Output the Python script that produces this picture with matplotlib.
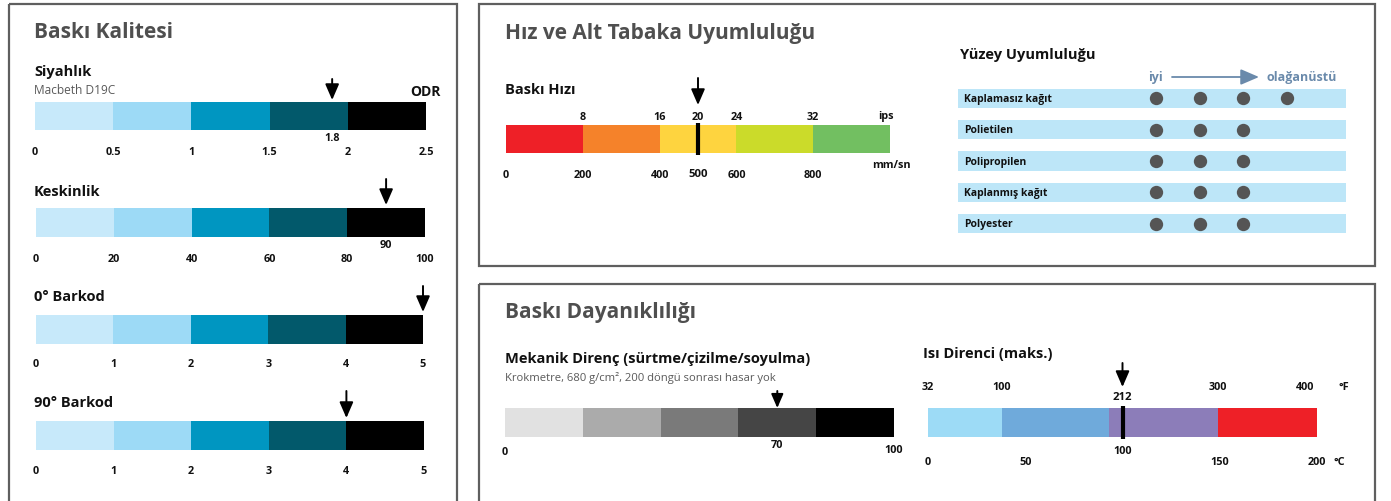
import matplotlib
matplotlib.use('Agg')
import matplotlib.pyplot as plt
from matplotlib.patches import Rectangle
from matplotlib.transforms import blended_transform_factory as btf
import numpy as np

# ---------------- data ----------------
quality_colors = ['#c7e9fa', '#9ddaf6', '#0096c1', '#02596b', '#000000']

siyah_ticks = [0, 0.5, 1, 1.5, 2, 2.5]
siyah_tick_labels = ['0', '0.5', '1', '1.5', '2', '2.5']
siyah_marker = 1.9
siyah_marker_label = '1.8'

kesk_ticks = [0, 20, 40, 60, 80, 100]
kesk_marker = 90
kesk_marker_label = '90'

bar0_ticks = [0, 1, 2, 3, 4, 5]
bar0_marker = 5

bar90_ticks = [0, 1, 2, 3, 4, 5]
bar90_marker = 4

speed_bounds = [0, 200, 400, 600, 800, 1000]
speed_colors = ['#ee2027', '#f5822a', '#fed43f', '#cbdb2a', '#72bf61']
speed_mm_ticks = [0, 200, 400, 600, 800]
speed_ips_labels = ['8', '16', '20', '24', '32']
speed_ips_pos = [200, 400, 500, 600, 800]
speed_marker = 500

surfaces = ['Kaplamasız kağıt', 'Polietilen', 'Polipropilen', 'Kaplanmış kağıt', 'Polyester']
surface_scores = [4, 3, 3, 3, 3]

mech_bounds = [0, 20, 40, 60, 80, 100]
mech_colors = ['#e1e1e1', '#ababab', '#7a7a7a', '#454545', '#000000']
mech_marker = 70

heat_bounds_c = [0, 37.8, 93.3, 148.9, 200]
heat_colors = ['#9ddbf6', '#6faadb', '#8c7db9', '#ee2027']
heat_c_ticks = [0, 50, 100, 150, 200]
heat_f_labels = ['32', '100', '212', '300', '400']
heat_f_pos = [0, 37.8, 100, 148.9, 194]
heat_marker = 100

# ---------------- layout ----------------
plt.rcParams['font.family'] = ['Open Sans', 'DejaVu Sans']
W, H = 1391, 502
fig = plt.figure(figsize=(W / 100, H / 100), dpi=100)
bg = fig.add_axes([0, 0, 1, 1])
bg.set_xlim(0, W)
bg.set_ylim(H, 0)
bg.axis('off')

TITLE_C = '#4f4f4f'
TXT_C = '#111111'
SUB_C = '#5a5a5a'
TICK = 7.8

for (x0, y0, x1, y1) in [(9, 5, 457, 520), (479, 5, 1375, 267), (479, 285, 1375, 520)]:
    bg.add_patch(Rectangle((x0, y0), x1 - x0, y1 - y0, fill=False, ec='#5f5f5f', lw=1.6))


def T(x, y, s, size, weight='normal', color=TXT_C, ha='left'):
    bg.text(x, y, s, fontsize=size, fontweight=weight, color=color, ha=ha, va='center')


def gauge_axes(x0, x1, y0, y1, xmin, xmax):
    ax = fig.add_axes([x0 / W, 1 - y1 / H, (x1 - x0) / W, (y1 - y0) / H])
    ax.set_xlim(xmin, xmax)
    ax.set_ylim(0, 1)
    ax.axis('off')
    return ax


def draw_bar(ax, bounds, colors):
    b = np.asarray(bounds, float)
    ax.barh(0.5, np.diff(b), left=b[:-1], height=1, color=colors, edgecolor='none', linewidth=0)


def label(ax, v, ypix, s, size=TICK, weight='bold', color=TXT_C):
    ax.text(v, ypix, s, transform=btf(ax.transData, bg.transData), ha='center', va='center',
            fontsize=size, fontweight=weight, color=color, clip_on=False)


def arrow(ax, v, tip, tail, ms=16, lw=1.4):
    tr = btf(ax.transData, bg.transData)
    ax.annotate('', xy=(v, tip), xytext=(v, tail), xycoords=tr, textcoords=tr,
                arrowprops=dict(arrowstyle='-|>,head_length=0.6,head_width=0.26', color='black',
                                lw=lw, shrinkA=0, shrinkB=0, mutation_scale=ms),
                annotation_clip=False)


def marker_line(ax, v):
    ax.plot([v, v], [-0.08, 1.08], color='black', lw=3, solid_capstyle='butt', clip_on=False)


# ---- Baskı Kalitesi ----
T(34, 32, 'Baskı Kalitesi', 15, 'bold', TITLE_C)

T(34, 72, 'Siyahlık', 10.5, 'bold')
T(34, 90, 'Macbeth D19C', 8.6, 'normal', SUB_C)
T(441, 92, 'ODR', 10, 'bold', ha='right')
ax = gauge_axes(35, 426, 103, 131, siyah_ticks[0], siyah_ticks[-1])
draw_bar(ax, siyah_ticks, quality_colors)
for v, s in zip(siyah_ticks, siyah_tick_labels):
    label(ax, v, 153, s)
label(ax, siyah_marker, 139, siyah_marker_label)
arrow(ax, siyah_marker, 101, 80)

T(34, 192, 'Keskinlik', 10.5, 'bold')
ax = gauge_axes(36, 425, 209, 238, kesk_ticks[0], kesk_ticks[-1])
draw_bar(ax, kesk_ticks, quality_colors)
for v in kesk_ticks:
    label(ax, v, 260, str(v))
label(ax, kesk_marker, 246, kesk_marker_label)
arrow(ax, kesk_marker, 206, 180)

T(34, 297, '0° Barkod', 10.5, 'bold')
ax = gauge_axes(36, 423, 316, 345, bar0_ticks[0], bar0_ticks[-1])
draw_bar(ax, bar0_ticks, quality_colors)
for v in bar0_ticks:
    label(ax, v, 365, str(v))
arrow(ax, bar0_marker, 313, 287)

T(34, 403, '90° Barkod', 10.5, 'bold')
ax = gauge_axes(36, 424, 422, 451, bar90_ticks[0], bar90_ticks[-1])
draw_bar(ax, bar90_ticks, quality_colors)
for v in bar90_ticks:
    label(ax, v, 472, str(v))
arrow(ax, bar90_marker, 419, 392)

# ---- Hız ve Alt Tabaka Uyumluluğu ----
T(505, 33, 'Hız ve Alt Tabaka Uyumluluğu', 15, 'bold', TITLE_C)
T(505, 90, 'Baskı Hızı', 10.5, 'bold')
ax = gauge_axes(506, 890, 126, 154, speed_bounds[0], speed_bounds[-1])
draw_bar(ax, speed_bounds, speed_colors)
for v in speed_mm_ticks:
    label(ax, v, 176, str(v))
label(ax, speed_marker, 175, str(speed_marker), size=8.2)
for v, s in zip(speed_ips_pos, speed_ips_labels):
    label(ax, v, 117, s)
label(ax, 990, 117, 'ips')
label(ax, 1003, 166, 'mm/sn')
marker_line(ax, speed_marker)
arrow(ax, speed_marker, 106, 79)

# surface compatibility
T(960, 55, 'Yüzey Uyumluluğu', 10.5, 'bold')
ARR_C = '#6a8aab'
T(1155, 78, 'iyi', 9, 'bold', ARR_C, ha='center')
T(1302, 78, 'olağanüstü', 9, 'bold', ARR_C, ha='center')
bg.annotate('', xy=(1259, 78), xytext=(1172, 78),
            arrowprops=dict(arrowstyle='-|>,head_length=0.7,head_width=0.3', color=ARR_C, lw=1.3,
                            shrinkA=0, shrinkB=0, mutation_scale=16))

sx0, sx1 = 958, 1346
lv0, lv1 = 1156, 1287
step = (lv1 - lv0) / 3
xmin = 1 - (lv0 - sx0) / step
xmax = 4 + (sx1 - lv1) / step
axs = fig.add_axes([sx0 / W, 1 - 234 / H, (sx1 - sx0) / W, (234 - 90) / H])
axs.set_xlim(xmin, xmax)
axs.set_ylim(4.3, -0.3)
axs.axis('off')
rows = np.arange(len(surfaces))
axs.barh(rows, xmax - xmin, left=xmin, height=0.61, color='#bde6f8', edgecolor='none')
for r, (name, sc) in enumerate(zip(surfaces, surface_scores)):
    lv = np.arange(1, sc + 1)
    axs.scatter(lv, np.full(len(lv), r), s=92, color='#555555', zorder=3, linewidths=0)
    axs.text(964, r, name, transform=btf(bg.transData, axs.transData), ha='left', va='center',
             fontsize=7.5, fontweight='bold', color=TXT_C)

# ---- Baskı Dayanıklılığı ----
T(505, 313, 'Baskı Dayanıklılığı', 15, 'bold', TITLE_C)
T(505, 359, 'Mekanik Direnç (sürtme/çizilme/soyulma)', 10.5, 'bold')
T(505, 378, 'Krokmetre, 680 g/cm², 200 döngü sonrası hasar yok', 8.1, 'normal', SUB_C)
ax = gauge_axes(505, 894, 409, 438, mech_bounds[0], mech_bounds[-1])
draw_bar(ax, mech_bounds, mech_colors)
label(ax, mech_bounds[0], 453, str(mech_bounds[0]))
label(ax, mech_bounds[-1], 451, str(mech_bounds[-1]))
label(ax, mech_marker, 446, str(mech_marker))
arrow(ax, mech_marker, 409, 392, ms=14)

T(923, 354, 'Isı Direnci (maks.)', 10.5, 'bold')
ax = gauge_axes(928, 1317, 409, 438, heat_c_ticks[0], heat_c_ticks[-1])
draw_bar(ax, heat_bounds_c, heat_colors)
for v in heat_c_ticks:
    if v == heat_marker:
        label(ax, v, 452, str(v))
    else:
        label(ax, v, 463, str(v))
label(ax, 211.5, 463, '°C')
for v, s in zip(heat_f_pos, heat_f_labels):
    if v == heat_marker:
        label(ax, v, 398, s, size=8.2)
    else:
        label(ax, v, 388, s)
label(ax, 214, 388, '°F')
marker_line(ax, heat_marker)
arrow(ax, heat_marker, 388, 364)

fig.savefig('out.png', dpi=100)
